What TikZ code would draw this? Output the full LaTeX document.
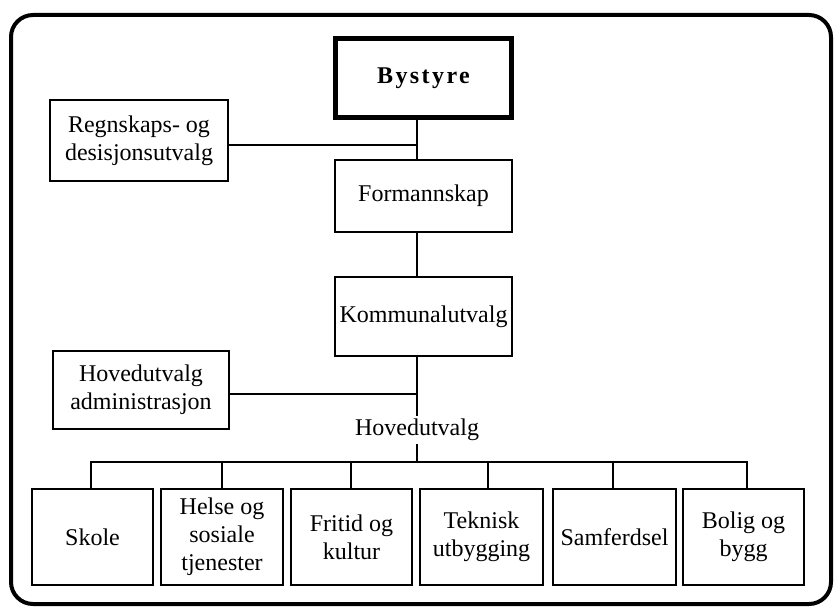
\documentclass[tikz,border=0pt]{standalone}
\usepackage{fontspec}
\setmainfont{Liberation Serif}
\usetikzlibrary{calc}
\begin{document}
\begin{tikzpicture}[x=1pt,y=-1pt,
  unit/.style={draw,line width=2.6pt,rectangle,align=center,inner sep=0pt,
    font=\fontsize{24}{28}\selectfont},
  topunit/.style={unit,line width=5pt},
  wire/.style={line width=2.4pt},
  lbl/.style={inner sep=3pt,font=\fontsize{24}{28}\selectfont}]
\useasboundingbox (0,0) rectangle (834,610);
% outer frame
\draw[line width=4pt,rounded corners=22pt] (11,15) rectangle (831,604);

% upper chain
\node[topunit,minimum width=176pt,minimum height=78pt] (by) at (423.5,78)
  {\addfontfeatures{LetterSpace=10}\bfseries Bystyre};
\node[unit,minimum width=178pt,minimum height=81pt] (reg) at (139,140.5)
  {Regnskaps- og\\desisjonsutvalg};
\node[unit,minimum width=177pt,minimum height=72pt] (form) at (423.5,196)
  {Formannskap};
\node[unit,minimum width=177pt,minimum height=79pt] (kom) at (423.5,316.5)
  {Kommunalutvalg};
\node[unit,minimum width=176pt,minimum height=78pt] (hadm) at (141,390)
  {Hovedutvalg\\administrasjon};
\node[lbl] (hu) at (417,430) {Hovedutvalg};

% committees
\foreach \n/\cx/\w/\t in {sk/92.5/121/Skole,
    hs/222/122/{Helse og\\sosiale\\tjenester},
    fk/351.5/121/{Fritid og\\kultur},
    tu/481.5/123/{Teknisk\\utbygging},
    sa/614.5/123/Samferdsel,
    bb/743.5/121/{Bolig og\\bygg}}
  \node[unit,minimum width=\w pt,minimum height=96pt] (\n) at (\cx,537) {\t};

% trunk junctions
\coordinate (j1) at (417,145);
\coordinate (j2) at (417,394);
\coordinate (bus) at (417,462);
\coordinate (d1) at (91,462);
\coordinate (d2) at (222,462);
\coordinate (d3) at (351,462);
\coordinate (d4) at (488,462);
\coordinate (d5) at (613,462);
\coordinate (d6) at (747,462);

\draw[wire] (j1 |- by.south) -- (j1 |- form.north);
\draw[wire] (reg.east |- j1) -- (j1);
\draw[wire] (j1 |- form.south) -- (j1 |- kom.north);
\draw[wire] (j2 |- kom.south) -- (hu.north);
\draw[wire] (hadm.east |- j2) -- (j2);
\draw[wire] (hu.south) -- (bus);
\draw[wire] (d1 |- sk.north) -- (d1) -- (d6) -- (d6 |- bb.north);
\draw[wire] (d2) -- (d2 |- hs.north);
\draw[wire] (d3) -- (d3 |- fk.north);
\draw[wire] (d4) -- (d4 |- tu.north);
\draw[wire] (d5) -- (d5 |- sa.north);
\end{tikzpicture}
\end{document}
